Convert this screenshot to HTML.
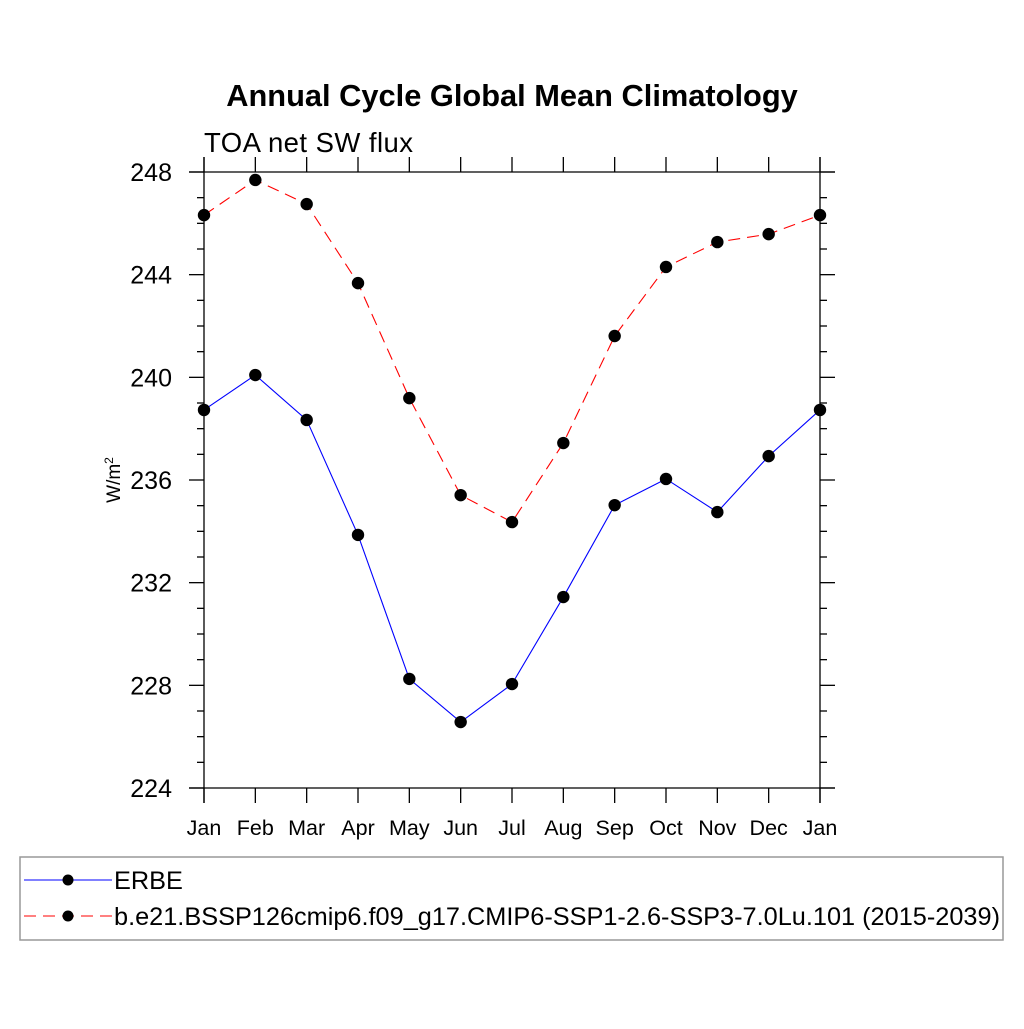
<!DOCTYPE html>
<html><head><meta charset="utf-8"><style>
body{margin:0;background:#fff;}
svg text{font-family:"Liberation Sans",Arial,sans-serif;}
</style></head><body>
<svg width="1024" height="1024" viewBox="0 0 1024 1024" xmlns="http://www.w3.org/2000/svg">
<rect width="1024" height="1024" fill="#fff"/>
<text x="512" y="106" text-anchor="middle" font-size="30.8" font-weight="bold">Annual Cycle Global Mean Climatology</text>
<text x="204" y="152" font-size="27.5" textLength="209">TOA net SW flux</text>
<text transform="translate(120,480) rotate(-90)" text-anchor="middle" font-size="19">W/m<tspan dy="-7" font-size="12">2</tspan></text>
<g id="axes"></g>
<g id="series"></g>
<rect x="20" y="857" width="983" height="83" fill="none" stroke="#999" stroke-width="1.5"/>
<g>
<line x1="24" y1="880" x2="112" y2="880" stroke="#00f" stroke-width="1"/>
<circle cx="68" cy="880" r="5.5" fill="#000"/>
<text x="114" y="889" font-size="25.3">ERBE</text>
</g>
<g>
<line x1="24" y1="916" x2="112" y2="916" stroke="#f00" stroke-width="1" stroke-dasharray="12,7"/>
<circle cx="68" cy="916" r="5.5" fill="#000"/>
<text x="114" y="925" font-size="25.3" textLength="886">b.e21.BSSP126cmip6.f09_g17.CMIP6-SSP1-2.6-SSP3-7.0Lu.101 (2015-2039)</text>
</g>
</svg>
<script>
const months=["Jan","Feb","Mar","Apr","May","Jun","Jul","Aug","Sep","Oct","Nov","Dec","Jan"];
const erbe=[238.73,240.09,238.34,233.86,228.25,226.57,228.05,231.44,235.02,236.04,234.75,236.93,238.73];
const model=[246.32,247.69,246.75,243.67,239.19,235.41,234.36,237.44,241.61,244.30,245.27,245.58,246.32];
const yTicks=[224,228,232,236,240,244,248];
const NS="http://www.w3.org/2000/svg";
const L=204,R=820,T=172,B=788,yMin=224,yMax=248;
const xs=i=>L+(R-L)*i/(months.length-1);
const ys=v=>B-(v-yMin)/(yMax-yMin)*(B-T);
function mk(tag,attrs,parent){const e=document.createElementNS(NS,tag);for(const k in attrs)e.setAttribute(k,attrs[k]);parent.appendChild(e);return e;}
const ax=document.getElementById('axes');
const st={stroke:"#000","stroke-width":1.3};
let e;
e=mk('line',Object.assign({x1:189,y1:T,x2:835,y2:T},st),ax);


e=mk('line',Object.assign({x1:189,y1:B,x2:835,y2:B},st),ax);


e=mk('line',Object.assign({x1:L,y1:157,x2:L,y2:803},st),ax);


e=mk('line',Object.assign({x1:R,y1:157,x2:R,y2:803},st),ax);


for(let v=yMin;v<=yMax;v+=1){
 const y=ys(v);const major=(v%4===0);const len=major?15:7;
 mk('line',Object.assign({x1:L-len,y1:y,x2:L,y2:y},st),ax);
 mk('line',Object.assign({x1:R,y1:y,x2:R+len,y2:y},st),ax);
}
yTicks.forEach(v=>{
 const t=mk('text',{x:172,y:ys(v)+9,"text-anchor":"end","font-size":25},ax);
 t.textContent=v;
 
 
});
months.forEach((m,i)=>{
 const x=xs(i);
 mk('line',Object.assign({x1:x,y1:B,x2:x,y2:B+15},st),ax);
 mk('line',Object.assign({x1:x,y1:T-15,x2:x,y2:T},st),ax);
 const t=mk('text',{x:x,y:835,"text-anchor":"middle","font-size":21.5},ax);
 t.textContent=m;
 
 
});
const sg=document.getElementById('series');
function series(data,color,dash,name){
 const g=mk('g',{},sg);
 
 
 const p=mk('polyline',{points:data.map((v,i)=>xs(i)+","+ys(v)).join(" "),fill:"none",stroke:color,"stroke-width":1.1},g);
 if(dash)p.setAttribute('stroke-dasharray',dash);
 data.forEach((v,i)=>{
  const c=mk('circle',{cx:xs(i),cy:ys(v),r:6.2,fill:"#000"},g);
  
  
 });
}
series(erbe,"#00f",null,"erbe-series");
series(model,"#f00","12,7","model-series");
</script>
</body></html>
